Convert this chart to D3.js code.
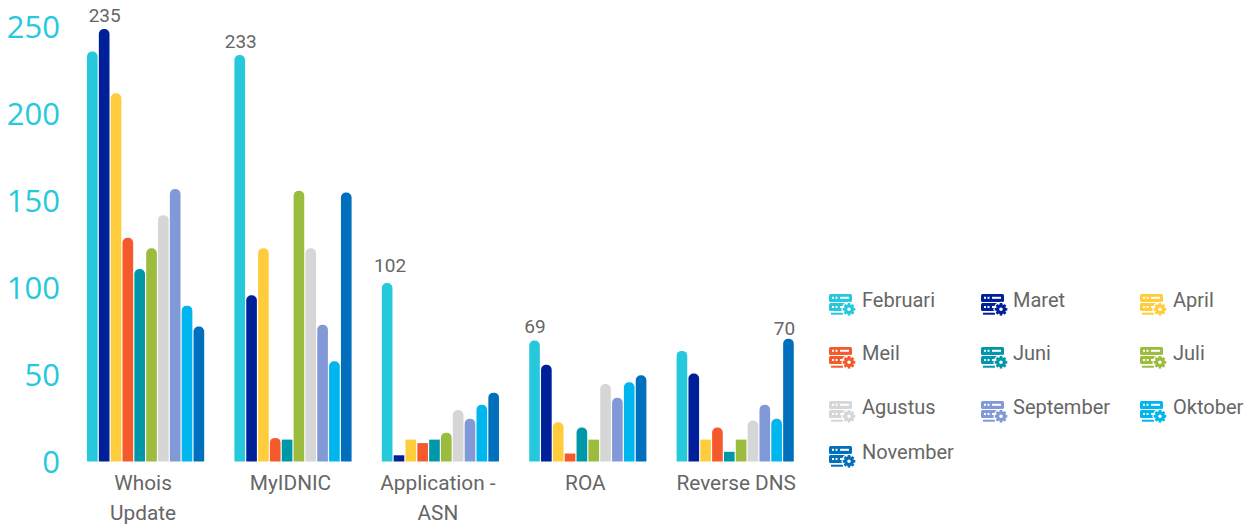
<!DOCTYPE html>
<html><head><meta charset="utf-8">
<script src="https://cdn.jsdelivr.net/npm/d3@7/dist/d3.min.js"></script>
<style>html,body{margin:0;padding:0;background:#fff;overflow:hidden}svg{display:block}</style>
</head><body><svg id="c" width="1252" height="526"></svg>
<script>
const categories=[["Whois","Update"],["MyIDNIC"],["Application -","ASN"],["ROA"],["Reverse DNS"]];
const seriesNames=["Februari","Maret","April","Meil","Juni","Juli","Agustus","September","Oktober","November"];
const colors=["#26c9dc","#00209a","#ffcd3c","#f55a2c","#0098a8","#9bbc3c","#d6d6d6","#8299d8","#00b6ef","#0070bc"];
const Februari=[235,233,102,69,63];
const Maret=[248,95,3,55,50];
const April=[211,122,12,22,12];
const Meil=[128,13,10,4,19];
const Juni=[110,12,12,19,5];
const Juli=[122,155,16,12,12];
const Agustus=[141,122,29,44,23];
const September=[156,78,24,36,32];
const Oktober=[89,57,32,45,24];
const November=[77,154,39,49,70];
const seriesValues=[Februari,Maret,April,Meil,Juni,Juli,Agustus,September,Oktober,November];
const yTicks=[0,50,100,150,200,250];
// [category index, series index, text]
const valueLabels=[[0,1,"235"],[1,0,"233"],[2,0,"102"],[3,0,"69"],[4,9,"70"]];
const labelDx=[.5,1,3,0.5,-4], labelDy=[-7,-7,-11,-7,-4];
const legendCols=[829,981,1140], legendRows=[305,358,412,457];
const legendPos=[[0,0],[1,0],[2,0],[0,1],[1,1],[2,1],[0,2],[1,2],[2,2],[0,3]];

const svg=d3.select("#c");
const x0=d3.scaleBand().domain(d3.range(categories.length)).range([71.9,808.9]).paddingInner(.205).paddingOuter(.1025);
const x1=d3.scaleBand().domain(d3.range(seriesNames.length)).range([0,x0.bandwidth()]).paddingInner(.1).paddingOuter(0);
const y=d3.scaleLinear().domain([0,250]).range([460.5,25.5]);
const R=5;
function barPath(cat,s,v){
  const xa=x0(cat)+x1(s),w=x1.bandwidth(),t=y(v),b=y(0)+1;
  if(v<=12) return `M${xa},${b}V${t}H${xa+w}V${b}Z`;
  return `M${xa},${b}V${t+R}A${R},${R} 0 0 1 ${xa+R},${t}H${xa+w-R}A${R},${R} 0 0 1 ${xa+w},${t+R}V${b}Z`;
}
const groups=svg.append("g").selectAll("g").data(seriesValues).join("g").attr("fill",(d,i)=>colors[i]);
groups.each(function(vals,s){
  d3.select(this).selectAll("path").data(vals).join("path").attr("d",(v,c)=>barPath(c,s,v));
});
// y axis
const yAxis=svg.append("g").attr("transform","translate(60,2)").call(d3.axisLeft(y).tickValues(yTicks).tickSize(0).tickPadding(0));
yAxis.select(".domain").remove();
yAxis.selectAll("text").attr("fill","#26c9dc").attr("font-family","'Open Sans'").attr("font-size",31).attr("font-weight",400);
// x axis
const xAxis=svg.append("g").attr("transform","translate(0,461)").call(d3.axisBottom(x0).tickSize(0).tickFormat(""));
xAxis.select(".domain").remove();
xAxis.selectAll(".tick").each(function(c){
  const t=d3.select(this).select("text").attr("fill","#666").attr("font-family","Roboto").attr("font-size",20.8).attr("y",0).attr("dy",0);
  categories[c].forEach((line,i)=>t.append("tspan").attr("x",c===4?1:-2.5).attr("y",29+i*30).text(line));
});
// value labels
svg.append("g").selectAll("text").data(valueLabels).join("text")
  .attr("x",(d,i)=>x0(d[0])+x1(d[1])+x1.bandwidth()/2+labelDx[i])
  .attr("y",(d,i)=>y(seriesValues[d[1]][d[0]])+labelDy[i])
  .attr("text-anchor","middle").attr("fill","#666").attr("font-family","Roboto").attr("font-size",19)
  .text(d=>d[2]);
// legend
const lg=svg.append("g").selectAll("g").data(seriesNames).join("g")
  .attr("transform",(d,i)=>`translate(${legendCols[legendPos[i][0]]},${legendRows[legendPos[i][1]]})`);
lg.each(function(name,i){
  const g=d3.select(this),c=colors[i];
  g.append("rect").attr("x",0).attr("y",-11).attr("width",23).attr("height",8).attr("rx",1.5).attr("fill",c);
  g.append("rect").attr("x",0).attr("y",-2).attr("width",20).attr("height",8).attr("rx",1.5).attr("fill",c);
  g.append("rect").attr("x",2).attr("y",7.7).attr("width",12).attr("height",2).attr("fill",c);
  [3,6.5].forEach(dx=>{g.append("rect").attr("x",dx).attr("y",-8.2).attr("width",2).attr("height",2).attr("fill","#fff");
    g.append("rect").attr("x",dx).attr("y",1).attr("width",2).attr("height",2).attr("fill","#fff");});
  g.append("rect").attr("x",11).attr("y",-8.2).attr("width",9).attr("height",2).attr("fill","#fff");
  g.append("rect").attr("x",11).attr("y",1).attr("width",3).attr("height",2).attr("fill","#fff");
  g.append("circle").attr("cx",20).attr("cy",4.3).attr("r",7.5).attr("fill","#fff");
  g.append("circle").attr("cx",20).attr("cy",4.3).attr("r",3.4).attr("fill","none").attr("stroke",c).attr("stroke-width",3.2);
  d3.range(8).forEach(k=>{const a=k*Math.PI/4;
    g.append("line").attr("x1",20+4*Math.cos(a)).attr("y1",4.3+4*Math.sin(a)).attr("x2",20+6.3*Math.cos(a)).attr("y2",4.3+6.3*Math.sin(a)).attr("stroke",c).attr("stroke-width",2.6);});
  g.append("text").attr("x",legendPos[i][0]===1?32:33).attr("y",2).attr("fill","#666").attr("font-family","Roboto").attr("font-size",20).text(name);
});
</script></body></html>
